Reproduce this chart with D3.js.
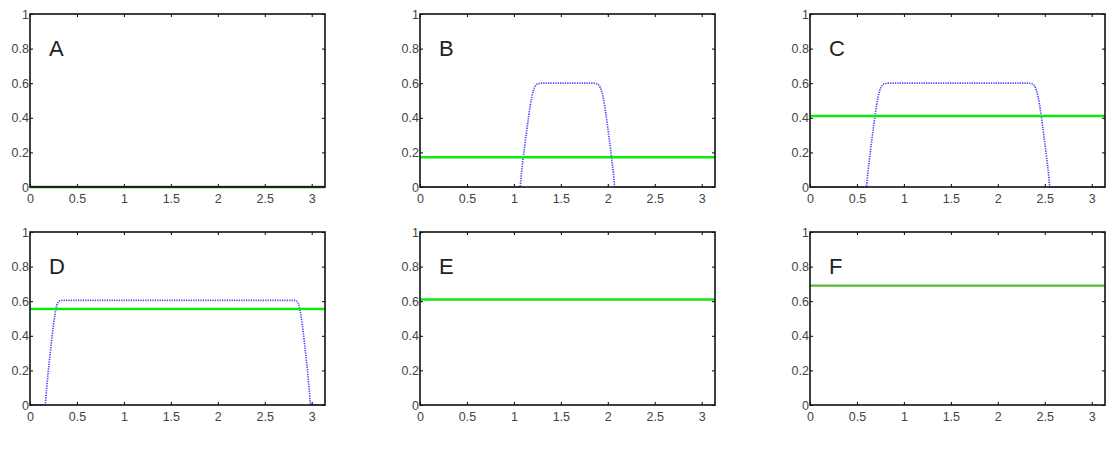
<!DOCTYPE html>
<meta charset="utf-8">
<script src="https://d3js.org/d3.v7.min.js"></script>
<style>
body { margin: 0; background: #fff; }
text { font-family: "Liberation Sans", Arial, sans-serif; }
</style>
<div id="chart"></div>
<script>
// panel letters and green level for each panel
var panelLabels = ["A", "B", "C", "D", "E", "F"];
var greenLevel = [0, 0.172, 0.41, 0.555, 0.61, 0.69];
var greenColor = ["#1f9f1f", "#11e611", "#11e611", "#11e611", "#11e611", "#55bb33"];

// blue dotted profile
var blueX_A = [0, 3.1416];
var blueY_A = [0, 0];
var blueX_B = [0, 1.065, 1.08, 1.10, 1.13, 1.16, 1.19, 1.22, 1.25, 1.29, 1.85, 1.89, 1.92, 1.95, 1.98, 2.01, 2.04, 2.06, 2.075, 3.1416];
var blueY_B = [0, 0, 0.08, 0.17, 0.30, 0.42, 0.52, 0.575, 0.595, 0.6, 0.6, 0.595, 0.575, 0.52, 0.42, 0.30, 0.17, 0.08, 0, 0];
var blueX_C = [0, 0.60, 0.615, 0.635, 0.665, 0.695, 0.725, 0.755, 0.785, 0.83, 2.325, 2.37, 2.40, 2.43, 2.46, 2.49, 2.52, 2.54, 2.555, 3.1416];
var blueY_C = [0, 0, 0.08, 0.17, 0.30, 0.42, 0.52, 0.575, 0.595, 0.6, 0.6, 0.595, 0.575, 0.52, 0.42, 0.30, 0.17, 0.08, 0, 0];
var blueX_D = [0, 0.16, 0.175, 0.19, 0.215, 0.24, 0.265, 0.285, 0.31, 0.35, 2.80, 2.84, 2.865, 2.885, 2.91, 2.935, 2.96, 2.975, 2.99, 3.1416];
var blueY_D = [0, 0, 0.08, 0.17, 0.30, 0.42, 0.52, 0.575, 0.60, 0.605, 0.605, 0.60, 0.575, 0.52, 0.42, 0.30, 0.17, 0.08, 0, 0];
var blueX = [blueX_A, blueX_B, blueX_C, blueX_D, [], []];
var blueY = [blueY_A, blueY_B, blueY_C, blueY_D, [], []];

var xTicks = [0, 0.5, 1, 1.5, 2, 2.5, 3];
var yTicks = [0, 0.2, 0.4, 0.6, 0.8, 1];
var xMax = 3.1416;

var W = 1117, H = 471;
var colLeft = [30, 420, 810];
var rowTop = [14, 232];
var pw = 295, ph = 173;

var svg = d3.select("#chart").append("svg")
    .attr("width", W)
    .attr("height", H);

var x = d3.scaleLinear().domain([0, xMax]).range([0, pw]);
var y = d3.scaleLinear().domain([0, 1]).range([ph, 0]);

var line = d3.line()
    .x(function(d) { return x(d[0]); })
    .y(function(d) { return y(d[1]); })
    .curve(d3.curveMonotoneX);

panelLabels.forEach(function(lab, i) {
  var g = svg.append("g")
      .attr("transform", "translate(" + colLeft[i % 3] + "," + rowTop[Math.floor(i / 3)] + ")");

  // axes, ticks pointing in
  g.append("g")
      .attr("transform", "translate(0," + ph + ")")
      .call(d3.axisBottom(x).tickValues(xTicks).tickSize(-3).tickPadding(7).tickFormat(d3.format("")));
  g.append("g")
      .call(d3.axisLeft(y).tickValues(yTicks).tickSize(-3).tickPadding(1).tickFormat(d3.format("")));
  g.append("g")
      .call(d3.axisTop(x).tickValues(xTicks).tickSize(-3).tickFormat(""));
  g.append("g")
      .attr("transform", "translate(" + pw + ",0)")
      .call(d3.axisRight(y).tickValues(yTicks).tickSize(-3).tickFormat(""));

  g.selectAll(".domain").remove();
  g.selectAll(".tick line").attr("stroke", "#000").attr("stroke-width", 1);
  g.selectAll(".tick text")
      .style("font-size", "12.5px")
      .attr("fill", "#444");

  // blue dotted curve
  var pts = blueX[i].map(function(v, k) { return [v, blueY[i][k]]; });
  if (pts.length) {
    g.append("path")
        .datum(pts)
        .attr("d", line)
        .attr("fill", "none")
        .attr("stroke", "#4a4aff")
        .attr("stroke-width", 1.7)
        .attr("stroke-dasharray", "1.3,1.1");
  }

  // green level
  g.append("path")
      .datum([[0, greenLevel[i]], [xMax, greenLevel[i]]])
      .attr("d", line)
      .attr("fill", "none")
      .attr("stroke", greenColor[i])
      .attr("stroke-width", 2.4);

  // frame
  g.append("rect")
      .attr("width", pw)
      .attr("height", ph)
      .attr("fill", "none")
      .attr("stroke", "#111")
      .attr("stroke-width", 1.6);

  g.append("text")
      .attr("x", 19)
      .attr("y", 42)
      .style("font-size", "22px")
      .attr("fill", "#222")
      .text(lab);
});
</script>
